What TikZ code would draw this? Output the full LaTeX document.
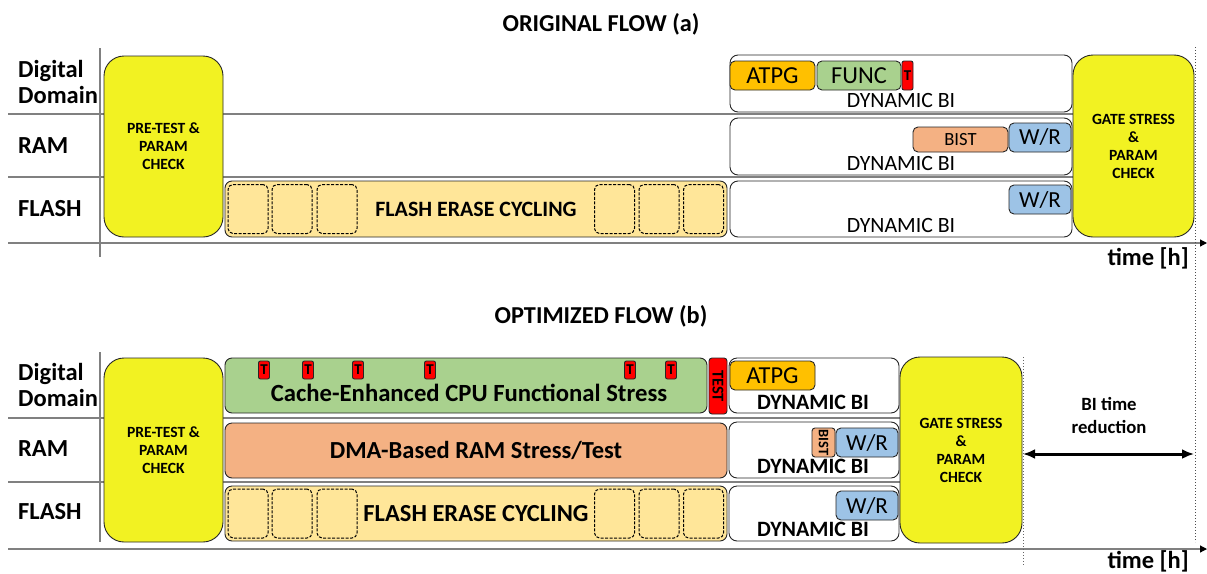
\documentclass[tikz,border=0pt]{standalone}
\usepackage{fontspec}
\setmainfont{Carlito}
\usepackage{xcolor}
\usepackage{tikz}
\usetikzlibrary{arrows.meta}

\definecolor{preyellow}{RGB}{242,242,34}
\definecolor{flashfill}{RGB}{255,230,153}
\definecolor{atpgfill}{RGB}{255,192,0}
\definecolor{funcfill}{RGB}{169,209,142}
\definecolor{bistfill}{RGB}{244,177,131}
\definecolor{wrfill}{RGB}{157,195,230}
\definecolor{tagred}{RGB}{255,0,0}
\definecolor{lanegray}{RGB}{128,128,128}

\tikzset{
  blk/.style={draw=black!85, line width=0.9pt, rounded corners=5pt, inner sep=0pt, outer sep=0pt, align=center},
  checkblk/.style={blk, fill=preyellow, rounded corners=20pt, font=\bfseries\fontsize{15.6}{18}\selectfont},
  dynblk/.style={blk, fill=white, rounded corners=8pt},
  cell/.style={draw=black, dash pattern=on 3pt off 1.5pt, line width=1pt, rounded corners=5pt, inner sep=0pt, minimum width=40pt},
  tag/.style={blk, fill=tagred, rounded corners=2pt, minimum width=11pt, font=\bfseries\fontsize{15}{14}\selectfont},
  lane/.style={draw=lanegray, line width=1.2pt},
  axis/.style={draw=lanegray, line width=1.2pt, -{Triangle[length=7pt,width=7pt,color=black]}},
  lbl/.style={anchor=west, align=left, inner sep=0pt, font=\bfseries\fontsize{24.5}{26.5}\selectfont},
  ttl/.style={inner sep=0pt, font=\bfseries\fontsize{24.3}{26}\selectfont},
  timelbl/.style={anchor=east, inner sep=0pt, font=\bfseries\fontsize{24.5}{26}\selectfont},
  redarrow/.style={{Latex[length=12pt,width=10pt]}-{Latex[length=12pt,width=10pt]}, line width=3pt},
}

\begin{document}
\begin{tikzpicture}[x=1pt,y=-1pt]
\useasboundingbox (0,0) rectangle (1207,573);

% ORIGINAL FLOW
\node[ttl] at (601,24) (ttla) {ORIGINAL FLOW (a)};
\draw[lane] (100,48) -- (100,257);
\foreach \y in {114,177} \draw[lane] (8,\y) -- (1073,\y);
\coordinate (axa0) at (8,243);
\coordinate (axa1) at (1207,243);
\draw[axis] (axa0) -- (axa1);
\draw[black!70, dotted, line width=1pt] (1195,47) -- (1195,542);

\node[lbl] at (18,82) (diga) {Digital\\Domain};
\node[lbl] at (18,146) (rama) {RAM};
\node[lbl] at (18,209) (flasha) {FLASH};

\node[checkblk, minimum width=119pt, minimum height=181pt] at (163.5,146.5) (prea) {PRE-TEST \&\\PARAM\\CHECK};
\node[blk, fill=flashfill, rounded corners=7pt, minimum width=502pt, minimum height=56pt,
      font=\bfseries\fontsize{21.9}{24}\selectfont] at (476,209) (feca) {FLASH ERASE CYCLING};
\foreach \x [count=\i] in {248,292,337,614.5,659,703.5}
  \node[cell, minimum height=49pt] at (\x,209) (cella\i) {};

\node[dynblk, minimum width=342pt, minimum height=57pt] at (901,83.5) (dbia1) {};
\node[dynblk, minimum width=342pt, minimum height=57pt] at (901,146.5) (dbia2) {};
\node[dynblk, minimum width=342pt, minimum height=56pt] at (901,209) (dbia3) {};
\foreach \y [count=\i] in {100,163,225}
  \node[font=\fontsize{21.8}{24}\selectfont, inner sep=0pt] at (901,\y) (dbitxta\i) {DYNAMIC BI};

\node[blk, fill=atpgfill, minimum width=85pt, minimum height=29pt, font=\fontsize{24.4}{26}\selectfont] at (772.5,75.5) (atpga) {ATPG};
\node[blk, fill=funcfill, minimum width=84pt, minimum height=29pt, font=\fontsize{24.4}{26}\selectfont] at (859,75.5) (funca) {FUNC};
\node[tag, minimum height=29pt] at (907.5,75.5) (ta) {T};
\node[blk, fill=bistfill, minimum width=95pt, minimum height=25pt, font=\fontsize{18.6}{20}\selectfont] at (960.5,139.5) (bista) {BIST};
\node[blk, fill=wrfill, minimum width=62pt, minimum height=29pt, font=\fontsize{23}{24}\selectfont] at (1040,137.5) (wra2) {W/R};
\node[blk, fill=wrfill, minimum width=62pt, minimum height=29pt, font=\fontsize{23}{24}\selectfont] at (1040,199.5) (wra3) {W/R};

\node[checkblk, minimum width=121pt, minimum height=182pt] at (1133.5,146) (gatea) {GATE STRESS\\\&\\PARAM\\CHECK};
\node[timelbl] at (1189,258) (timea) {time [h]};

% OPTIMIZED FLOW
\node[ttl] at (601,316) (ttlb) {OPTIMIZED FLOW (b)};
\draw[lane] (100,352) -- (100,542);
\foreach \y in {418,482} \draw[lane] (8,\y) -- (900,\y);
\coordinate (axb0) at (8,549);
\coordinate (axb1) at (1207,549);
\draw[axis] (axb0) -- (axb1);
\draw[black!60, dotted, line width=1pt] (1023,357) -- (1023,566);

\node[lbl] at (18,385) (digb) {Digital\\Domain};
\node[lbl] at (18,449) (ramb) {RAM};
\node[lbl] at (18,512) (flashb) {FLASH};

\node[checkblk, minimum width=119pt, minimum height=184pt] at (163.5,450) (preb) {PRE-TEST \&\\PARAM\\CHECK};

\node[blk, fill=funcfill, rounded corners=7pt, minimum width=482pt, minimum height=55pt] at (466,385.5) (cpu) {};
\node[inner sep=0pt, font=\bfseries\fontsize{24.7}{26}\selectfont] at (469,393) (cputxt) {Cache-Enhanced CPU Functional Stress};
\foreach \x [count=\i] in {264,308,358,430,630,671}
  \node[tag, minimum height=18pt] at (\x,370) (tb\i) {T};
\node[blk, fill=tagred, rounded corners=3pt, rotate=-90, minimum width=56pt, minimum height=18pt,
      font=\bfseries\fontsize{16.5}{16}\selectfont] at (718,386) (testb) {TEST};

\node[blk, fill=bistfill, rounded corners=7pt, minimum width=502pt, minimum height=55pt,
      font=\bfseries\fontsize{24.5}{26}\selectfont] at (476,450.5) (dma) {DMA-Based RAM Stress/Test};
\node[blk, fill=flashfill, rounded corners=7pt, minimum width=502pt, minimum height=55pt,
      font=\bfseries\fontsize{24.5}{26}\selectfont] at (476,513.5) (fecb) {FLASH ERASE CYCLING};
\foreach \x [count=\i] in {248,292,337,614.5,659,703.5}
  \node[cell, minimum height=49pt] at (\x,513.5) (cellb\i) {};

\node[dynblk, minimum width=170pt, minimum height=55pt] at (814,385.5) (dbib1) {};
\node[dynblk, minimum width=170pt, minimum height=56pt] at (814,450) (dbib2) {};
\node[dynblk, minimum width=170pt, minimum height=55pt] at (814,513.5) (dbib3) {};
\foreach \y [count=\i] in {402,466,529}
  \node[font=\bfseries\fontsize{21.9}{24}\selectfont, inner sep=0pt] at (813,\y) (dbitxtb\i) {DYNAMIC BI};

\node[blk, fill=atpgfill, minimum width=85pt, minimum height=29pt, font=\fontsize{24.4}{26}\selectfont] at (772.5,375.5) (atpgb) {ATPG};
\node[blk, fill=bistfill, rounded corners=3pt, rotate=-90, minimum width=29pt, minimum height=23pt,
      font=\bfseries\fontsize{14.5}{14}\selectfont] at (823.5,442.5) (bistb) {BIST};
\node[blk, fill=wrfill, minimum width=62pt, minimum height=29pt, font=\fontsize{23}{24}\selectfont] at (867,442.5) (wrb2) {W/R};
\node[blk, fill=wrfill, minimum width=62pt, minimum height=29pt, font=\fontsize{23}{24}\selectfont] at (867,505.5) (wrb3) {W/R};

\node[checkblk, minimum width=122pt, minimum height=186pt] at (961,450) (gateb) {GATE STRESS\\\&\\PARAM\\CHECK};

\coordinate (redL) at (1023,454);
\coordinate (redR) at (1194,454);
\draw[redarrow] (redL) -- (redR);
\node[align=center, inner sep=0pt, font=\bfseries\fontsize{18.7}{23}\selectfont] at (1109,415) (redtxt) {BI time\\reduction};
\node[timelbl] at (1189,561) (timeb) {time [h]};
\end{tikzpicture}
\end{document}
